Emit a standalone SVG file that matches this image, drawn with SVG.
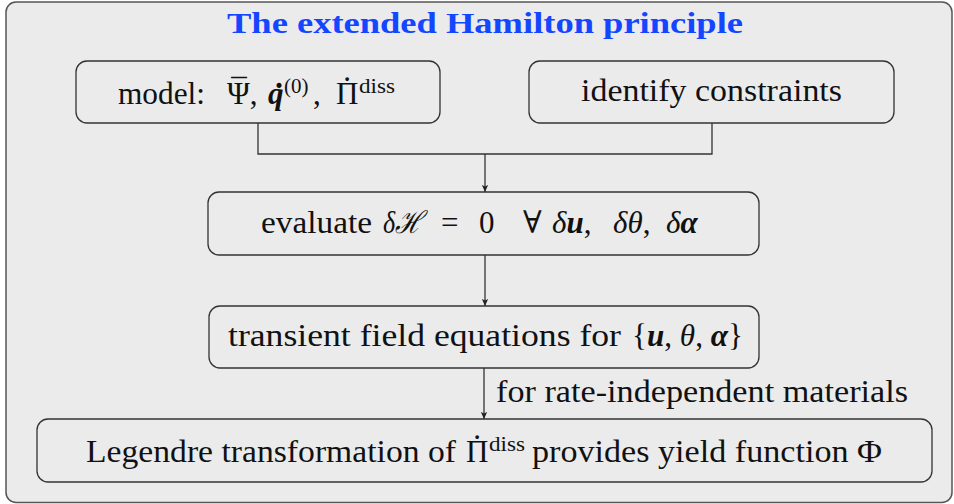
<svg xmlns="http://www.w3.org/2000/svg" width="954" height="504" viewBox="0 0 954 504">
<defs>
<style>
.bg{fill:#ebebeb;stroke:#555;stroke-width:1.5}
.node{fill:#ebebeb;stroke:#333;stroke-width:1.3}
.t{font-family:"Liberation Serif","DejaVu Serif",serif;font-size:31px;fill:#111}
.title{font-family:"Liberation Serif","DejaVu Serif",serif;font-size:30px;font-weight:bold;fill:#1446ff}
.it{font-style:italic}
.bi{font-style:italic;font-weight:bold}
.sup{font-size:21px}
.acc{text-anchor:middle}
.conn{fill:none;stroke:#333;stroke-width:1.3}
</style>
<marker id="arr" viewBox="0 0 10 10" refX="10" refY="5" markerWidth="8" markerHeight="7" markerUnits="userSpaceOnUse" orient="auto">
<path d="M0,0.5 L10,5 L0,9.5 L2,5 Z" fill="#222"/>
</marker>
</defs>
<rect class="bg" x="6" y="2" width="946" height="500.5" rx="10"/>
<text class="title" x="227" y="33" textLength="516" lengthAdjust="spacingAndGlyphs">The extended Hamilton principle</text>

<g id="connectors">
<path class="conn" d="M258,123 V154 H712 V123"/>
<path class="conn" d="M485,154 V192" marker-end="url(#arr)"/>
<path class="conn" d="M485,255 V306" marker-end="url(#arr)"/>
<path class="conn" d="M484,368 V419" marker-end="url(#arr)"/>
<text class="t" x="496" y="402" textLength="412" lengthAdjust="spacingAndGlyphs">for rate-independent materials</text>
</g>

<g id="model">
<rect class="node" x="76" y="61" width="364" height="62" rx="11"/>
<text class="t" x="118" y="104" textLength="87" lengthAdjust="spacingAndGlyphs">model:</text>
<text class="t" x="227" y="104">Ψ,</text>
<text class="t acc" x="239" y="101">¯</text>
<text class="t bi" x="268" y="104">q</text>
<text class="t bi acc" x="280" y="88">.</text>
<text class="t sup" x="284" y="93">(0)</text>
<text class="t" x="313" y="104">,</text>
<text class="t" x="336" y="104">Π</text>
<text class="t acc" x="347" y="81">.</text>
<text class="t sup" x="359" y="93" textLength="36" lengthAdjust="spacingAndGlyphs">diss</text>
</g>

<g id="constraints">
<rect class="node" x="529" y="61" width="365" height="62" rx="11"/>
<text class="t" x="581" y="101" textLength="261" lengthAdjust="spacingAndGlyphs">identify constraints</text>
</g>

<g id="evaluate">
<rect class="node" x="208" y="192" width="551" height="63" rx="11"/>
<text class="t" x="261" y="233" textLength="111" lengthAdjust="spacingAndGlyphs">evaluate</text>
<text class="t it" x="383" y="233" textLength="40" lengthAdjust="spacingAndGlyphs">δℋ</text>
<text class="t" x="441" y="233">=</text>
<text class="t" x="479" y="233">0</text>
<text class="t" x="523" y="233">∀</text>
<text class="t" x="552" y="233"><tspan class="it">δ</tspan><tspan class="bi">u</tspan>,</text>
<text class="t" x="613" y="233"><tspan class="it">δθ</tspan>,</text>
<text class="t" x="666" y="233"><tspan class="it">δ</tspan><tspan class="bi">α</tspan></text>
</g>

<g id="transient">
<rect class="node" x="209" y="306" width="550" height="62" rx="11"/>
<text class="t" x="228" y="346" textLength="393" lengthAdjust="spacingAndGlyphs">transient field equations for</text>
<text class="t" x="632" y="346" textLength="111" lengthAdjust="spacingAndGlyphs" xml:space="preserve">{<tspan class="bi">u</tspan>, <tspan class="it">θ</tspan>, <tspan class="bi">α</tspan>}</text>
</g>

<g id="legendre">
<rect class="node" x="37" y="419" width="895" height="63" rx="11"/>
<text class="t" x="86" y="462" textLength="370" lengthAdjust="spacingAndGlyphs">Legendre transformation of</text>
<text class="t" x="466" y="462">Π</text>
<text class="t acc" x="477" y="439">.</text>
<text class="t sup" x="489" y="451" textLength="36" lengthAdjust="spacingAndGlyphs">diss</text>
<text class="t" x="532" y="462" textLength="350" lengthAdjust="spacingAndGlyphs">provides yield function Φ</text>
</g>
</svg>
